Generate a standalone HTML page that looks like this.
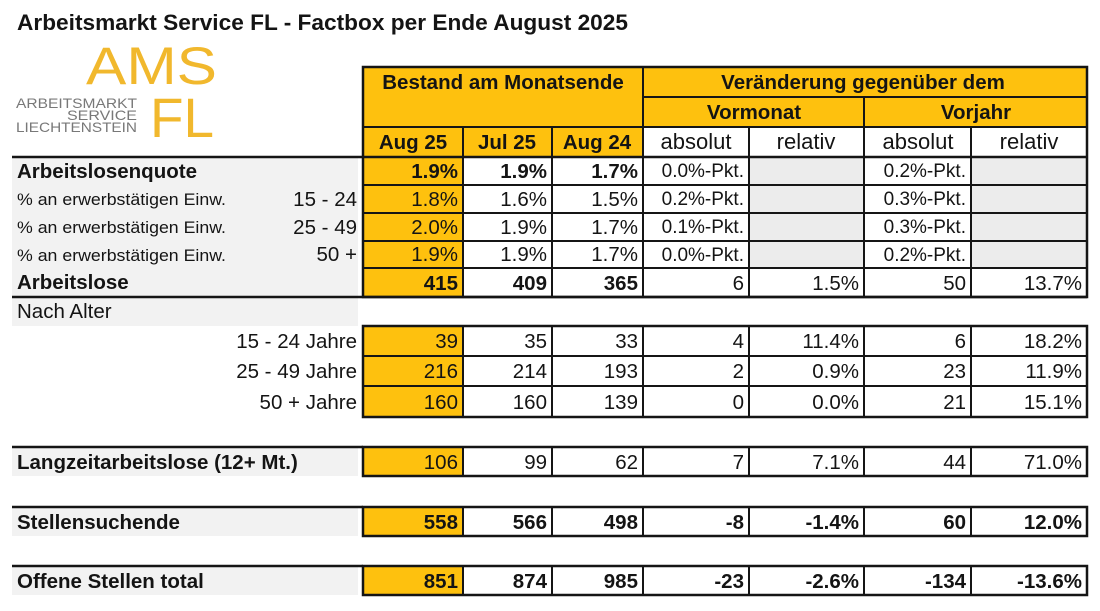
<!DOCTYPE html>
<html><head><meta charset="utf-8"><style>
html,body{margin:0;padding:0;background:#fff;}
svg{display:block;}
text{font-family:"Liberation Sans",Arial,sans-serif;fill:#141414;}
.b{font-weight:bold;}
</style></head><body>
<svg width="1100" height="611" viewBox="0 0 1100 611" xmlns="http://www.w3.org/2000/svg">
<!-- Title -->
<text x="17" y="30" class="b" font-size="22.5" textLength="611" lengthAdjust="spacingAndGlyphs">Arbeitsmarkt Service FL - Factbox per Ende August 2025</text>

<!-- Logo -->
<text x="86" y="84" font-size="53" style="fill:#f1b82d" textLength="131" lengthAdjust="spacingAndGlyphs">AMS</text>
<text x="150" y="137" font-size="56" style="fill:#f1b82d" textLength="64" lengthAdjust="spacingAndGlyphs">FL</text>
<text x="137" y="108" font-size="14" text-anchor="end" style="fill:#787878" textLength="121" lengthAdjust="spacingAndGlyphs">ARBEITSMARKT</text>
<text x="137" y="120" font-size="14" text-anchor="end" style="fill:#787878" textLength="70" lengthAdjust="spacingAndGlyphs">SERVICE</text>
<text x="137" y="132" font-size="14" text-anchor="end" style="fill:#787878" textLength="121" lengthAdjust="spacingAndGlyphs">LIECHTENSTEIN</text>

<!-- Label backgrounds -->
<g fill="#f2f2f2">
<rect x="12" y="158" width="346" height="168"/>
<rect x="12" y="448" width="346" height="28"/>
<rect x="12" y="508" width="346" height="28"/>
<rect x="12" y="567" width="346" height="28"/>
</g>

<!-- Yellow fills -->
<g fill="#fec10e">
<rect x="363" y="67" width="724" height="60"/>
<rect x="363" y="127" width="280" height="30"/>
<rect x="363" y="157" width="100" height="140"/>
<rect x="363" y="326" width="100" height="91"/>
<rect x="363" y="447" width="100" height="29"/>
<rect x="363" y="507" width="100" height="29"/>
<rect x="363" y="566" width="100" height="29"/>
</g>
<!-- Gray relativ cells -->
<g fill="#ececec">
<rect x="749" y="157" width="115" height="111"/>
<rect x="971" y="157" width="116" height="111"/>
</g>

<!-- Grid lines -->
<g stroke="#151515" stroke-width="2" fill="none">
<!-- header -->
<rect x="363" y="67" width="724" height="230" stroke-width="2.5"/>
<line x1="643" y1="97" x2="1087" y2="97"/>
<line x1="363" y1="127" x2="1087" y2="127"/>
<line x1="12" y1="157" x2="1087" y2="157" stroke-width="2.5"/>
<line x1="463" y1="127" x2="463" y2="297"/>
<line x1="552" y1="127" x2="552" y2="297"/>
<line x1="643" y1="67" x2="643" y2="297"/>
<line x1="749" y1="127" x2="749" y2="297"/>
<line x1="864" y1="97" x2="864" y2="297"/>
<line x1="971" y1="127" x2="971" y2="297"/>
<line x1="363" y1="185" x2="1087" y2="185"/>
<line x1="363" y1="213" x2="1087" y2="213"/>
<line x1="363" y1="241" x2="1087" y2="241"/>
<line x1="363" y1="268" x2="1087" y2="268"/>
<line x1="12" y1="297" x2="1087" y2="297" stroke-width="2.5"/>

<!-- section 2 -->
<rect x="363" y="326" width="724" height="91" stroke-width="2.5"/>
<line x1="363" y1="356" x2="1087" y2="356"/>
<line x1="363" y1="386" x2="1087" y2="386"/>
<g>
<line x1="463" y1="326" x2="463" y2="417"/>
<line x1="552" y1="326" x2="552" y2="417"/>
<line x1="643" y1="326" x2="643" y2="417"/>
<line x1="749" y1="326" x2="749" y2="417"/>
<line x1="864" y1="326" x2="864" y2="417"/>
<line x1="971" y1="326" x2="971" y2="417"/>
</g>

<!-- Langzeit -->
<line x1="12" y1="447" x2="363" y2="447" stroke-width="2.5"/>
<rect x="363" y="447" width="724" height="29" stroke-width="2.5"/>
<!-- Stellensuchende -->
<line x1="12" y1="507" x2="363" y2="507" stroke-width="2.5"/>
<rect x="363" y="507" width="724" height="29" stroke-width="2.5"/>
<!-- Offene -->
<line x1="12" y1="566" x2="363" y2="566" stroke-width="2.5"/>
<rect x="363" y="566" width="724" height="29" stroke-width="2.5"/>
<g>
<line x1="463" y1="447" x2="463" y2="476"/><line x1="552" y1="447" x2="552" y2="476"/><line x1="643" y1="447" x2="643" y2="476"/><line x1="749" y1="447" x2="749" y2="476"/><line x1="864" y1="447" x2="864" y2="476"/><line x1="971" y1="447" x2="971" y2="476"/>
<line x1="463" y1="507" x2="463" y2="536"/><line x1="552" y1="507" x2="552" y2="536"/><line x1="643" y1="507" x2="643" y2="536"/><line x1="749" y1="507" x2="749" y2="536"/><line x1="864" y1="507" x2="864" y2="536"/><line x1="971" y1="507" x2="971" y2="536"/>
<line x1="463" y1="566" x2="463" y2="595"/><line x1="552" y1="566" x2="552" y2="595"/><line x1="643" y1="566" x2="643" y2="595"/><line x1="749" y1="566" x2="749" y2="595"/><line x1="864" y1="566" x2="864" y2="595"/><line x1="971" y1="566" x2="971" y2="595"/>
</g>
</g>

<!-- Header text -->
<g class="b" font-size="20.5" text-anchor="middle">
<text x="503" y="89" class="b">Bestand am Monatsende</text>
<text x="863" y="89" class="b">Veränderung gegenüber dem</text>
<text x="754" y="119" class="b">Vormonat</text>
<text x="976" y="119" class="b">Vorjahr</text>
<text x="413" y="149" class="b">Aug 25</text>
<text x="507" y="149" class="b">Jul 25</text>
<text x="597" y="149" class="b">Aug 24</text>
</g>
<g font-size="22" text-anchor="middle">
<text x="696" y="149">absolut</text>
<text x="806" y="149">relativ</text>
<text x="918" y="149">absolut</text>
<text x="1029" y="149">relativ</text>
</g>

<!-- Labels -->
<text x="17" y="178" class="b" font-size="20.5">Arbeitslosenquote</text>
<text x="17" y="205" font-size="16.5" textLength="209" lengthAdjust="spacingAndGlyphs">% an erwerbstätigen Einw.</text>
<text x="17" y="233" font-size="16.5" textLength="209" lengthAdjust="spacingAndGlyphs">% an erwerbstätigen Einw.</text>
<text x="17" y="261" font-size="16.5" textLength="209" lengthAdjust="spacingAndGlyphs">% an erwerbstätigen Einw.</text>
<g font-size="20.5" text-anchor="end">
<text x="357" y="206">15 - 24</text>
<text x="357" y="234">25 - 49</text>
<text x="357" y="261">50 +</text>
</g>
<text x="17" y="289" class="b" font-size="20.5">Arbeitslose</text>
<text x="17" y="318" font-size="20.5">Nach Alter</text>
<g font-size="20.5" text-anchor="end">
<text x="357" y="348">15 - 24 Jahre</text>
<text x="357" y="378">25 - 49 Jahre</text>
<text x="357" y="409">50 + Jahre</text>
</g>
<text x="17" y="469" class="b" font-size="20.5">Langzeitarbeitslose (12+ Mt.)</text>
<text x="17" y="529" class="b" font-size="20.5">Stellensuchende</text>
<text x="17" y="588" class="b" font-size="20.5">Offene Stellen total</text>

<!-- Values -->
<g font-size="20.5" text-anchor="end">
<!-- row 1 -->
<text x="458" y="178" class="b">1.9%</text><text x="547" y="178" class="b">1.9%</text><text x="638" y="178" class="b">1.7%</text>
<text x="744" y="177" font-size="19">0.0%-Pkt.</text><text x="966" y="177" font-size="19">0.2%-Pkt.</text>
<!-- row 2 -->
<text x="458" y="206">1.8%</text><text x="547" y="206">1.6%</text><text x="638" y="206">1.5%</text>
<text x="744" y="205" font-size="19">0.2%-Pkt.</text><text x="966" y="205" font-size="19">0.3%-Pkt.</text>
<!-- row 3 -->
<text x="458" y="234">2.0%</text><text x="547" y="234">1.9%</text><text x="638" y="234">1.7%</text>
<text x="744" y="233" font-size="19">0.1%-Pkt.</text><text x="966" y="233" font-size="19">0.3%-Pkt.</text>
<!-- row 4 -->
<text x="458" y="261">1.9%</text><text x="547" y="261">1.9%</text><text x="638" y="261">1.7%</text>
<text x="744" y="261" font-size="19">0.0%-Pkt.</text><text x="966" y="261" font-size="19">0.2%-Pkt.</text>
<!-- row 5 -->
<text x="458" y="290" class="b">415</text><text x="547" y="290" class="b">409</text><text x="638" y="290" class="b">365</text>
<text x="744" y="290">6</text><text x="859" y="290">1.5%</text><text x="966" y="290">50</text><text x="1082" y="290">13.7%</text>
<!-- section 2 -->
<text x="458" y="348">39</text><text x="547" y="348">35</text><text x="638" y="348">33</text>
<text x="744" y="348">4</text><text x="859" y="348">11.4%</text><text x="966" y="348">6</text><text x="1082" y="348">18.2%</text>
<text x="458" y="378">216</text><text x="547" y="378">214</text><text x="638" y="378">193</text>
<text x="744" y="378">2</text><text x="859" y="378">0.9%</text><text x="966" y="378">23</text><text x="1082" y="378">11.9%</text>
<text x="458" y="409">160</text><text x="547" y="409">160</text><text x="638" y="409">139</text>
<text x="744" y="409">0</text><text x="859" y="409">0.0%</text><text x="966" y="409">21</text><text x="1082" y="409">15.1%</text>
<!-- Langzeit -->
<text x="458" y="469">106</text><text x="547" y="469">99</text><text x="638" y="469">62</text>
<text x="744" y="469">7</text><text x="859" y="469">7.1%</text><text x="966" y="469">44</text><text x="1082" y="469">71.0%</text>
</g>
<g font-size="20.5" text-anchor="end" class="b">
<text x="458" y="529" class="b">558</text><text x="547" y="529" class="b">566</text><text x="638" y="529" class="b">498</text>
<text x="744" y="529" class="b">-8</text><text x="859" y="529" class="b">-1.4%</text><text x="966" y="529" class="b">60</text><text x="1082" y="529" class="b">12.0%</text>
<text x="458" y="588" class="b">851</text><text x="547" y="588" class="b">874</text><text x="638" y="588" class="b">985</text>
<text x="744" y="588" class="b">-23</text><text x="859" y="588" class="b">-2.6%</text><text x="966" y="588" class="b">-134</text><text x="1082" y="588" class="b">-13.6%</text>
</g>
</svg>
</body></html>
